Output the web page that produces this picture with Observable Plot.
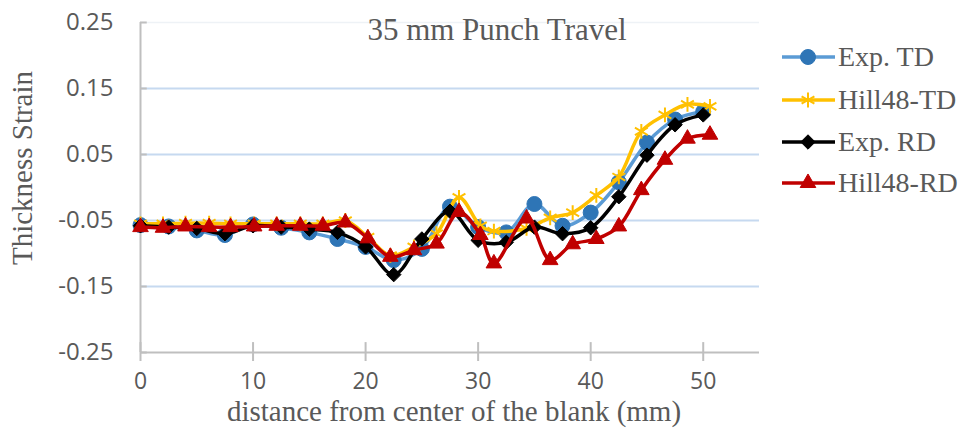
<!DOCTYPE html>
<html><head><meta charset="utf-8">
<script src="https://cdn.jsdelivr.net/npm/d3@7"></script>
<script src="https://cdn.jsdelivr.net/npm/@observablehq/plot@0.6"></script>
<style>
body{margin:0;background:#fff;}
#wrap{position:relative;width:965px;height:429px;overflow:hidden;}
.t{position:absolute;font-family:"Liberation Serif","Times New Roman",serif;color:#595959;white-space:nowrap;line-height:1;}
.leg{position:absolute;left:780px;display:flex;align-items:center;height:34px;font-family:"Liberation Serif",serif;font-size:28px;color:#595959;}
.leg svg{margin-right:2px;}
</style></head><body><div id="wrap"></div>
<script>
// ---- data ----
const expX = [0,2.5,5,7.5,10,12.5,15,17.5,20,22.5,25,27.5,30,32.5,35,37.5,40,42.5,45,47.5,50];
const expTD = [-0.057,-0.059,-0.065,-0.072,-0.056,-0.061,-0.068,-0.078,-0.09,-0.11,-0.093,-0.029,-0.06,-0.068,-0.025,-0.058,-0.038,0.008,0.068,0.103,0.115];
const expRD = [-0.058,-0.06,-0.062,-0.07,-0.058,-0.06,-0.063,-0.068,-0.09,-0.132,-0.078,-0.036,-0.08,-0.083,-0.06,-0.07,-0.061,-0.014,0.049,0.095,0.11];
const hillX = [0,2,4,6.1,8,10.1,12.1,14.2,16.2,18.2,20.2,22.2,24.3,26.3,28.3,30.2,31.4,34.3,36.4,38.4,40.5,42.5,44.5,46.6,48.6,50.6];
const hillTD = [-0.055,-0.055,-0.054,-0.054,-0.055,-0.055,-0.055,-0.055,-0.055,-0.05,-0.075,-0.103,-0.09,-0.07,-0.015,-0.058,-0.066,-0.062,-0.046,-0.038,-0.012,0.016,0.085,0.11,0.126,0.123];
const hillRD = [-0.06,-0.061,-0.059,-0.06,-0.06,-0.059,-0.058,-0.058,-0.058,-0.053,-0.077,-0.105,-0.095,-0.085,-0.037,-0.072,-0.115,-0.047,-0.11,-0.086,-0.078,-0.059,-0.004,0.042,0.074,0.08];
const seriesNames = ["Exp. TD","Hill48-TD","Exp. RD","Hill48-RD"];
const xTicks = [0,10,20,30,40,50];
const yTicks = [-0.25,-0.15,-0.05,0.05,0.15,0.25];
const titleText = "35 mm Punch Travel";
const xTitle = "distance from center of the blank (mm)";
const yTitle = "Thickness Strain";

const styles = [
  {line:"#5b9bd5", symbol:"circle", fill:"#2e75b6", stroke:"#2e75b6", r:7.5, sw:1},
  {line:"#ffc000", symbol:"asterisk", fill:"none", stroke:"#ffc000", r:7, sw:2},
  {line:"#000000", symbol:"diamond2", fill:"#000000", stroke:"#000000", r:6.5, sw:1},
  {line:"#c00000", symbol:"triangle", fill:"#c00000", stroke:"#c00000", r:5.8, sw:1}
];
const xs = [expX, hillX, expX, hillX];
const ys = [expTD, hillTD, expRD, hillRD];
const tables = ys.map((arr,i)=>arr.map((v,j)=>({x:xs[i][j], y:v})));

const marks = [
  Plot.ruleY(yTicks.filter(d=>d>-0.25 && d<0.25), {stroke:"#c6d9f0", strokeWidth:2}),
  Plot.ruleY([0.25], {stroke:"#eef2f6", strokeWidth:1.5}),
  Plot.ruleY([-0.25], {stroke:"#bfbfbf", strokeWidth:2}),
  Plot.ruleX([0], {stroke:"#bfbfbf", strokeWidth:2}),
  Plot.ruleY(yTicks, {x1:0, x2:0.6, stroke:"#bfbfbf", strokeWidth:2}),
  Plot.ruleX(xTicks, {y1:-0.25, y2:-0.235, stroke:"#bfbfbf", strokeWidth:2}),
  Plot.axisX({ticks:xTicks, tickSize:9, stroke:"#bfbfbf", strokeWidth:2, tickPadding:11, fontSize:23, fontFamily:"Open Sans", fill:"#595959", label:null}),
  Plot.axisY({ticks:yTicks, tickFormat:d=>d.toFixed(2), tickSize:0, tickPadding:27, fontSize:24, fontFamily:"Open Sans", fill:"#595959", label:null})
];
tables.forEach((t,i)=>{
  const s = styles[i];
  marks.push(Plot.line(t, {x:"x", y:"y", stroke:s.line, strokeWidth:3.5, curve:"catmull-rom"}));
  marks.push(Plot.dot(t, {x:"x", y:"y", symbol:()=>s.symbol, r:s.r, fill:s.fill, stroke:s.stroke, strokeWidth:s.sw}));
});

const chart = Plot.plot({
  width:965, height:429,
  marginLeft:140, marginRight:206, marginTop:22, marginBottom:77,
  x:{domain:[0,55]},
  y:{domain:[-0.25,0.25]},
  symbol:{type:"identity"},
  style:{background:"#fff"},
  marks
});
const wrap = document.getElementById("wrap");
wrap.appendChild(chart);

function addText(txt, css){
  const d = document.createElement("div");
  d.className = "t"; d.textContent = txt;
  Object.assign(d.style, css);
  wrap.appendChild(d);
}
addText(titleText, {left:"497px", top:"29px", fontSize:"31px", transform:"translate(-50%,-50%)"});
addText(xTitle, {left:"454px", top:"411px", fontSize:"29px", transform:"translate(-50%,-50%)"});
addText(yTitle, {left:"22px", top:"168px", fontSize:"29px", transform:"translate(-50%,-50%) rotate(-90deg)"});

// legend
const rowY = [57,100,142,183];
seriesNames.forEach((name,i)=>{
  const s = styles[i];
  const row = document.createElement("div");
  row.className = "leg";
  row.style.top = (rowY[i]-17)+"px";
  const svg = d3.create("svg").attr("width",56).attr("height",34);
  svg.append("line").attr("x1",2).attr("x2",55).attr("y1",17).attr("y2",17).attr("stroke",s.line).attr("stroke-width",3.5);
  const symMap = {circle:d3.symbolCircle, asterisk:d3.symbolAsterisk, diamond2:d3.symbolDiamond2, triangle:d3.symbolTriangle};
  svg.append("path").attr("transform","translate(28,17)")
    .attr("d", d3.symbol(symMap[s.symbol], Math.PI*s.r*s.r)())
    .attr("fill", s.fill).attr("stroke", s.stroke).attr("stroke-width", s.sw);
  row.appendChild(svg.node());
  const sp = document.createElement("span"); sp.textContent = name;
  row.appendChild(sp);
  wrap.appendChild(row);
});
</script>
</body></html>
